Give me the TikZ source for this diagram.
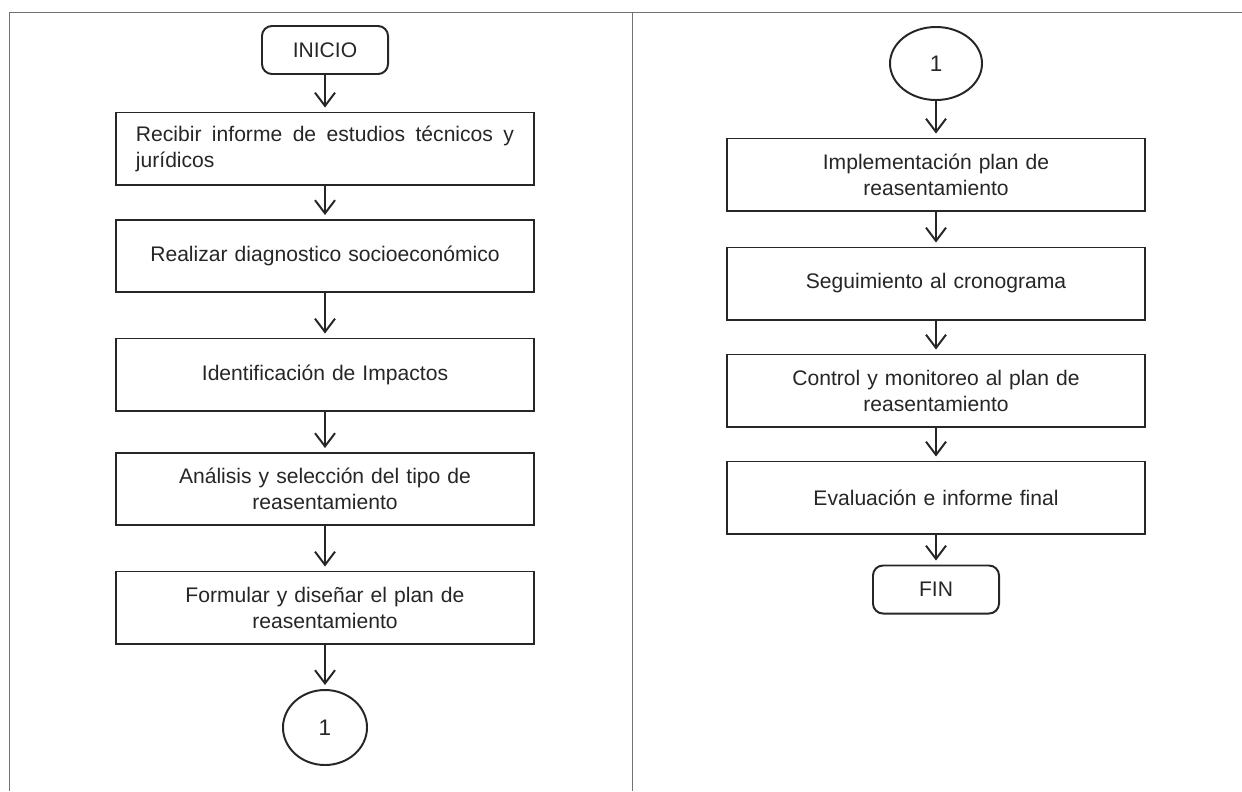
\documentclass[tikz,border=0pt]{standalone}
\usepackage{fontspec}
\setmainfont{Liberation Sans}
\usepackage{tikz}
\usetikzlibrary{arrows.meta,shapes.geometric}
\hyphenpenalty=10000
\tolerance=9999

\begin{document}
\begin{tikzpicture}[x=0.025cm,y=-0.025cm,
paso/.style={draw=black!85,text=black!85,line width=1.4pt,rectangle,text width=9.45cm,inner xsep=0.5cm,minimum height=1.8cm,align=center,font=\fontsize{15}{18.5}\selectfont},
terminal/.style={draw=black!85,text=black!85,line width=1.4pt,rounded corners=0.25cm,minimum width=3.15cm,minimum height=1.2cm,font=\fontsize{15}{18.5}\selectfont},
conector/.style={draw=black!85,text=black!85,line width=1.4pt,ellipse,inner sep=0pt,font=\fontsize{16}{18}\selectfont},
flecha/.style={draw=black!85,line width=1.4pt,-{Straight Barb[length=0.33cm,width=0.5cm]},shorten >=0.1cm},
marco/.style={draw=black!55,line width=0.6pt}]
\useasboundingbox (0,0) rectangle (1242,791);
\draw[marco] (9,791) -- (9,12) -- (1242,12);
\draw[marco] (632,12) -- (632,791);

\node[terminal] (inicio) at (325,50) {INICIO};
\node[paso,align=justify] (recibir) at (325,148.5) {Recibir informe de estudios técnicos y jurídicos};
\node[paso] (diagnostico) at (325,256) {Realizar diagnostico socioeconómico};
\node[paso] (impactos) at (325,374.5) {Identificación de Impactos};
\node[paso] (analisis) at (325,489) {Análisis y selección del tipo de\\reasentamiento};
\node[paso] (formular) at (325,607.5) {Formular y diseñar el plan de\\reasentamiento};
\node[conector,minimum width=2.1cm,minimum height=1.875cm] (conexA) at (325,727.5) {1};

\node[conector,minimum width=2.3cm,minimum height=1.825cm] (conexB) at (936,63.5) {1};
\node[paso] (implementar) at (936,174.5) {Implementación plan de\\reasentamiento};
\node[paso] (seguimiento) at (936,283.5) {Seguimiento al cronograma};
\node[paso] (control) at (936,390.5) {Control y monitoreo al plan de\\reasentamiento};
\node[paso] (evaluacion) at (936,497.5) {Evaluación e informe final};
\node[terminal] (fin) at (936,589.5) {FIN};

\draw[flecha] (inicio) -- (recibir);
\draw[flecha] (recibir) -- (diagnostico);
\draw[flecha] (diagnostico) -- (impactos);
\draw[flecha] (impactos) -- (analisis);
\draw[flecha] (analisis) -- (formular);
\draw[flecha] (formular) -- (conexA);
\draw[flecha] (conexB) -- (implementar);
\draw[flecha] (implementar) -- (seguimiento);
\draw[flecha] (seguimiento) -- (control);
\draw[flecha] (control) -- (evaluacion);
\draw[flecha] (evaluacion) -- (fin);
\end{tikzpicture}
\end{document}
